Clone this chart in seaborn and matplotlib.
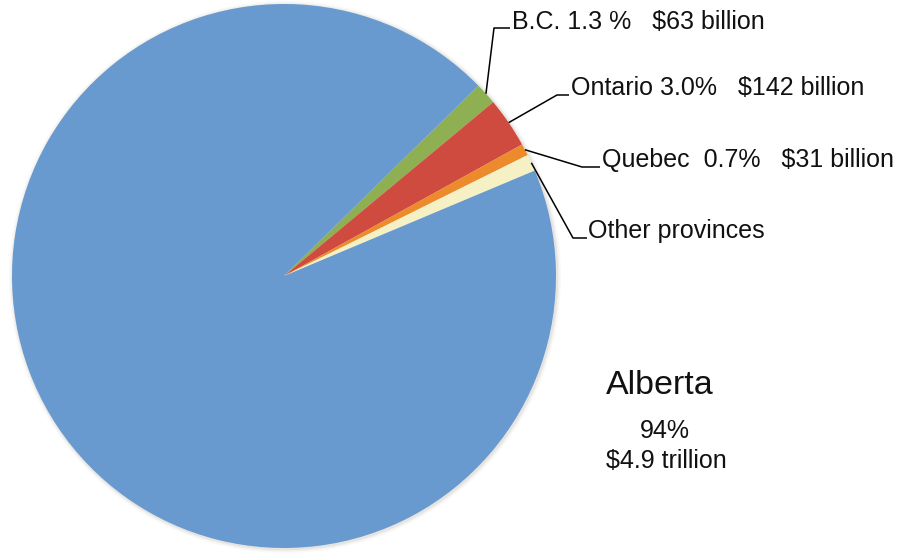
import numpy as np
import matplotlib
matplotlib.use("Agg")
import matplotlib.pyplot as plt
import seaborn as sns

# Share of the total by province
provinces = ["B.C.", "Ontario", "Quebec", "Other provinces", "Alberta"]
shares = [1.3, 3.0, 0.7, 1.0, 94.0]
label_texts = [
    "B.C. 1.3 %   $63 billion",
    "Ontario 3.0%   $142 billion",
    "Quebec  0.7%   $31 billion",
    "Other provinces",
]
alberta_lines = ["Alberta", "94%", "$4.9 trillion"]

sns.set_theme(style="white")
plt.rcParams["font.family"] = ["Liberation Sans", "DejaVu Sans"]

colors = ["#8FB052", "#CF4B40", "#EC8A2C", "#F6F1C4", "#689AD0"]

W, H = 898, 554
fig = plt.figure(figsize=(W / 100, H / 100), dpi=100)
ax = fig.add_axes([0, 0, 1, 1])
ax.set_xlim(0, W)
ax.set_ylim(0, H)
ax.set_aspect("equal")
ax.axis("off")

cx, cy, r = 284, H - 276, 272

# soft edge shadow around the pie
for k, a in [(4, 0.05), (2.5, 0.08), (1.2, 0.12)]:
    ax.add_patch(plt.Circle((cx + 1, cy - 1), r + k, color="#9a8f85", alpha=a, lw=0))

wedges, _ = ax.pie(
    shares,
    colors=colors,
    startangle=44.4,
    counterclock=False,
    center=(cx, cy),
    radius=r,
    wedgeprops=dict(linewidth=0),
)
ax.set_xlim(0, W)
ax.set_ylim(0, H)

# label positions: (elbow x, elbow y, text x) in pixel rows from top
elbows = [(494, 28, 510), (557, 95, 569), (582, 167, 600), (573, 238, 587)]
label_x = [512, 571, 602, 588]
label_y = [22, 88, 160, 231]

for i, (w, txt) in enumerate(zip(wedges[:4], label_texts)):
    mid = np.deg2rad((w.theta1 + w.theta2) / 2)
    sx, sy = cx + r * np.cos(mid), cy + r * np.sin(mid)
    ex, ey, hx = elbows[i]
    ax.plot([sx, ex, hx], [sy, H - ey, H - ey], color="black", lw=1.1,
            solid_capstyle="butt")
    ax.text(label_x[i], H - label_y[i], txt, fontsize=18, ha="left",
            va="center", color="#111111")

ax.text(660, H - 386, alberta_lines[0], fontsize=24.5, ha="center", va="center",
        color="#111111")
ax.text(665, H - 431, alberta_lines[1], fontsize=18, ha="center", va="center",
        color="#111111")
ax.text(666, H - 461, alberta_lines[2], fontsize=18, ha="center", va="center",
        color="#111111")

fig.savefig("out.png", dpi=100, facecolor="white")
